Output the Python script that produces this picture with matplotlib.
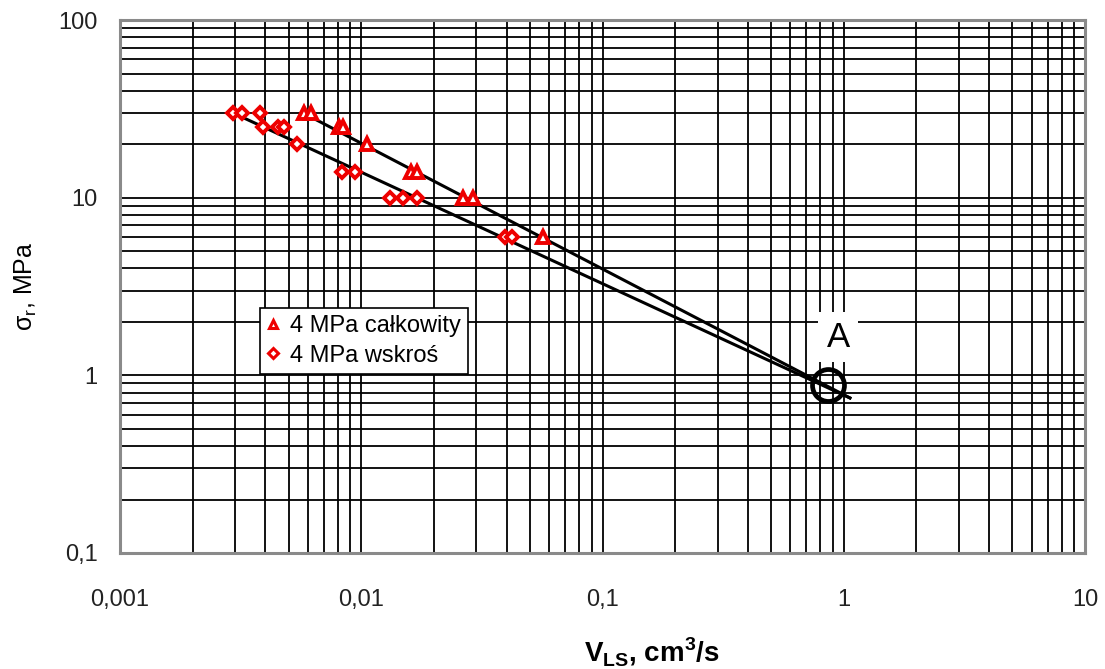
import numpy as np
import matplotlib

matplotlib.use("Agg")
import matplotlib.pyplot as plt
from matplotlib.ticker import FixedLocator, LogLocator, NullFormatter

plt.rcParams["font.family"] = ["Liberation Sans", "DejaVu Sans"]
plt.rcParams["mathtext.fontset"] = "custom"
plt.rcParams["mathtext.rm"] = "Liberation Sans"
plt.rcParams["mathtext.bf"] = "Liberation Sans:bold"

# 4 MPa całkowity (triangles)
tri_v = [0.0058, 0.0062, 0.0081, 0.0084, 0.0106, 0.0160, 0.0170, 0.0265, 0.0290, 0.0567]
tri_s = [30, 30, 25, 25, 20, 14, 14, 10, 10, 6]

# 4 MPa wskroś (diamonds)
dia_v = [0.00294, 0.0032, 0.0038, 0.0039, 0.0045, 0.0048, 0.0054, 0.0083, 0.0094,
         0.0132, 0.0149, 0.0170, 0.0394, 0.0422]
dia_s = [30, 30, 30, 25, 25, 25, 20, 14, 14, 10, 10, 10, 6, 6]

# trend lines (start, end)
line_cal_v = [0.00574, 1.06]
line_cal_s = [30, 0.746]
line_wsk_v = [0.00294, 1.06]
line_wsk_s = [30, 0.746]

point_a_v = 0.86
point_a_s = 0.88

x_ticks = [0.001, 0.01, 0.1, 1, 10]
x_labels = ["0,001", "0,01", "0,1", "1", "10"]
y_ticks = [0.1, 1, 10, 100]
y_labels = ["0,1", "1", "10", "100"]

fig = plt.figure(figsize=(11.05, 6.69), dpi=100)
ax = fig.add_axes([0.1086, 0.1734, 0.8734, 0.7966])
ax.set_xscale("log")
ax.set_yscale("log")
ax.set_xlim(0.001, 10)
ax.set_ylim(0.1, 100)

ax.xaxis.set_major_locator(FixedLocator(x_ticks))
ax.yaxis.set_major_locator(FixedLocator(y_ticks))
ax.set_xticklabels(x_labels)
ax.set_yticklabels(y_labels)
ax.xaxis.set_minor_locator(LogLocator(base=10, subs=np.arange(2, 10)))
ax.yaxis.set_minor_locator(LogLocator(base=10, subs=np.arange(2, 10)))
ax.xaxis.set_minor_formatter(NullFormatter())
ax.yaxis.set_minor_formatter(NullFormatter())
ax.grid(True, which="both", color="black", lw=1.3, zorder=0)
ax.tick_params(which="both", length=0, labelsize=17, labelcolor="#222222")
ax.tick_params(axis="y", pad=16)
ax.tick_params(axis="x", pad=26)
for sp in ax.spines.values():
    sp.set_color("#8a8a8a")
    sp.set_linewidth(2.2)

ax.plot(line_cal_v, line_cal_s, color="black", lw=2.2, zorder=3)
ax.plot(line_wsk_v, line_wsk_s, color="black", lw=2.2, zorder=3)

ax.plot(tri_v, tri_s, ls="none", marker="^", ms=8, mfc="white", mec="#ee0000", mew=2.8,
        zorder=4, label="4 MPa całkowity")
ax.plot(dia_v, dia_s, ls="none", marker="D", ms=6.5, mfc="white", mec="#ee0000", mew=2.8,
        zorder=4, label="4 MPa wskroś")

ax.plot([point_a_v], [point_a_s], ls="none", marker="o", ms=23, mfc="none", mec="black",
        mew=3.4, zorder=5)
ax.text(0.946, 1.64, "A", fontsize=25, ha="center", va="center", zorder=6,
        bbox=dict(facecolor="white", edgecolor="none", pad=6))

leg = ax.legend(loc="upper left", bbox_to_anchor=(0.1452, 0.4597), fontsize=17,
                frameon=True, fancybox=False, edgecolor="black", handlelength=0.5,
                handletextpad=0.45, borderpad=0.3, labelspacing=0.32, borderaxespad=0,
                markerscale=0.75, framealpha=1)
leg.get_frame().set_linewidth(1.2)
leg.set_zorder(7)
for h in leg.legend_handles:
    h.set_markeredgewidth(2.2)

ax.set_xlabel(r"V$_{\mathbf{LS}}$, cm$^{\mathbf{3}}$/s", fontsize=20, fontweight="bold", labelpad=18)
ax.xaxis.label.set_x(0.551)
ax.set_ylabel(r"σ$_{\mathrm{r}}$, MPa", fontsize=18, labelpad=14)

fig.savefig("out.png", dpi=100)
